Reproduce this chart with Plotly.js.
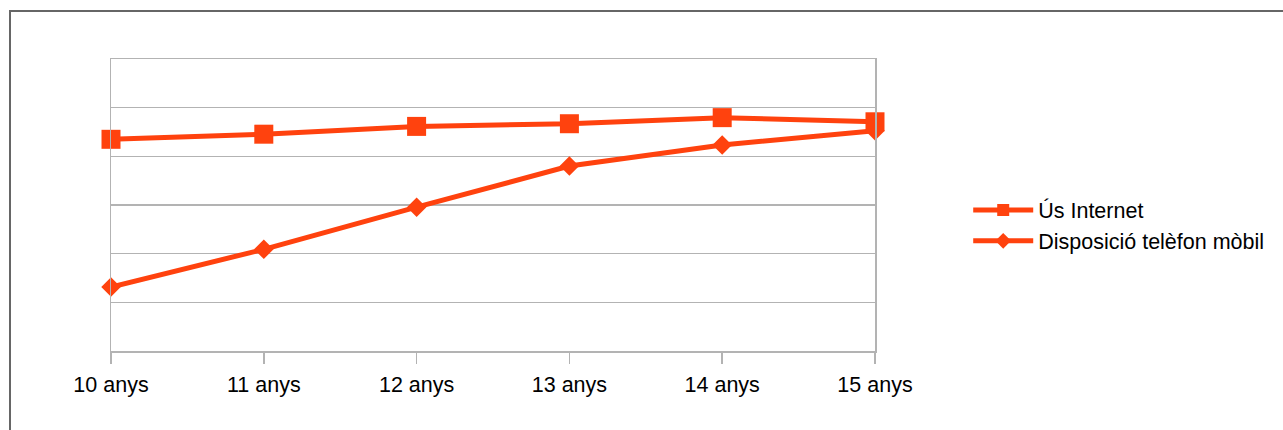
<!DOCTYPE html>
<html>
<head>
<meta charset="utf-8">
<script src="https://cdn.plot.ly/plotly-3.0.1.min.js"></script>
<style>
  html, body { margin: 0; padding: 0; background: #fff; }
  #wrap { position: relative; width: 1283px; height: 430px; overflow: hidden; }
  #chart { position: absolute; left: 0; top: 0; width: 1283px; height: 430px; }
  #frame { position: absolute; left: 9px; top: 10px; width: 1400px; height: 600px;
           border-top: 2px solid #666; border-left: 2px solid #666; pointer-events: none; }
</style>
</head>
<body>
<div id="wrap">
  <div id="chart"></div>
  <div id="frame"></div>
</div>
<script>
const categories = ["10 anys", "11 anys", "12 anys", "13 anys", "14 anys", "15 anys"];
const usInternet = [87.0, 89.1, 92.3, 93.4, 95.9, 94.2];
const telefonMobil = [26.3, 41.8, 59.1, 76.0, 84.7, 90.5];
const seriesNames = ["Ús Internet", "Disposició telèfon mòbil"];

const color = "#ff420e";
const font = { family: "Liberation Sans, Arial, sans-serif", size: 21.5, color: "#000" };

const traces = [
  {
    x: categories, y: usInternet, name: seriesNames[0], type: "scatter", mode: "lines+markers",
    line: { color: color, width: 5 }, cliponaxis: false,
    marker: { symbol: "square", size: 19, color: color }
  },
  {
    x: categories, y: telefonMobil, name: seriesNames[1], type: "scatter", mode: "lines+markers",
    line: { color: color, width: 5 }, cliponaxis: false,
    marker: { symbol: "diamond", size: 15, color: color }
  }
];

const layout = {
  width: 1283, height: 430,
  margin: { l: 111, r: 408, t: 59, b: 79 },
  paper_bgcolor: "#fff", plot_bgcolor: "#fff",
  font: font,
  showlegend: true,
  legend: {
    x: 1.122, y: 0.43, xanchor: "left", yanchor: "middle",
    font: font, itemwidth: 60, itemsizing: "constant", tracegroupgap: 0,
    bgcolor: "rgba(0,0,0,0)"
  },
  xaxis: {
    type: "category", range: [0, 5],
    showline: true, linecolor: "#b3b3b3", linewidth: 1.5, mirror: true,
    ticks: "outside", ticklen: 11, tickcolor: "#b3b3b3", tickwidth: 1.5,
    ticklabelstandoff: 3,
    showgrid: false, zeroline: false, tickfont: font, fixedrange: true
  },
  yaxis: {
    range: [0, 120], dtick: 20, tick0: 0,
    showticklabels: false, ticks: "",
    showline: true, linecolor: "#b3b3b3", linewidth: 1.5, mirror: true,
    showgrid: true, gridcolor: "#b3b3b3", gridwidth: 1.5, zeroline: false, fixedrange: true
  }
};

Plotly.newPlot("chart", traces, layout, { staticPlot: true, displayModeBar: false });
</script>
</body>
</html>
